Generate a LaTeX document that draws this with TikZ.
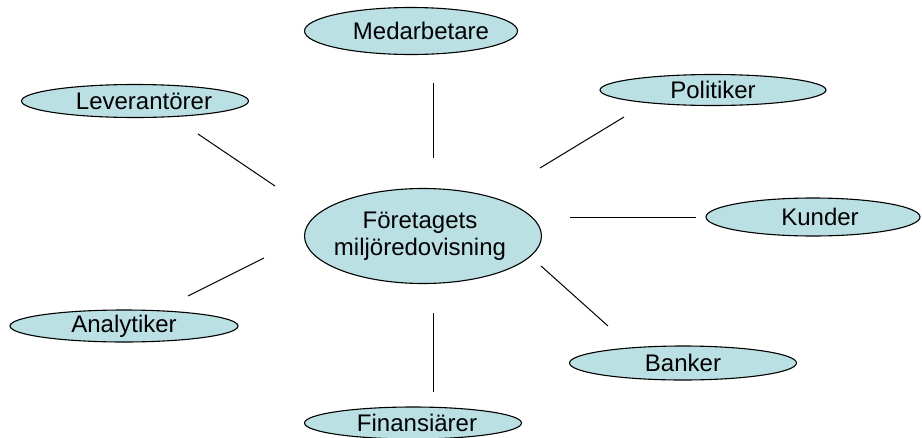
\documentclass[tikz,border=0pt]{standalone}
\usepackage{fontspec}
\setmainfont{Liberation Sans}
\usetikzlibrary{shapes.geometric}
\definecolor{bubble}{RGB}{187,224,227}
\begin{document}
\begin{tikzpicture}[x=1pt,y=-1pt,
  bub/.style={ellipse,draw=black,line width=1.1pt,fill=bubble,inner sep=0pt},
  txt/.style={inner sep=0pt,font=\fontsize{24}{27}\selectfont,align=center},
  link/.style={draw=black,line width=1pt}]
\useasboundingbox (0,0) rectangle (922,437);
\fill[white] (0,0) rectangle (922,437);
\node[bub,minimum width=237,minimum height=95] (c) at (423,236) {};
\node[bub,minimum width=213,minimum height=47] (med) at (411,31) {};
\node[bub,minimum width=227,minimum height=33] (lev) at (135,101) {};
\node[bub,minimum width=226,minimum height=31] (pol) at (713,90) {};
\node[bub,minimum width=214,minimum height=38] (kun) at (813,217) {};
\node[bub,minimum width=228,minimum height=32] (ana) at (124,326) {};
\node[bub,minimum width=227,minimum height=34] (ban) at (683,363) {};
\node[bub,minimum width=217,minimum height=32] (fin) at (413,423) {};
\node[txt] (ct) at ([xshift=-3pt]c) {Företagets\\miljöredovisning};
\node[txt] (medt) at ([xshift=10pt]med) {Medarbetare};
\node[txt] (levt) at ([xshift=9pt]lev) {Leverantörer};
\node[txt] (polt) at (pol) {Politiker};
\node[txt] (kunt) at ([xshift=7pt]kun) {Kunder};
\node[txt] (anat) at (ana) {Analytiker};
\node[txt] (bant) at (ban) {Banker};
\node[txt] (fint) at ([xshift=4pt]fin) {Finansiärer};
\coordinate (m1) at (433,83);  \coordinate (m2) at (433,158);
\coordinate (l1) at (198,134); \coordinate (l2) at (275,186);
\coordinate (p1) at (540,168); \coordinate (p2) at (624,117);
\coordinate (k1) at (570,217); \coordinate (k2) at (696,217);
\coordinate (a1) at (188,296); \coordinate (a2) at (264,258);
\coordinate (b1) at (541,266); \coordinate (b2) at (608,326);
\coordinate (f1) at (433,313); \coordinate (f2) at (433,392);
\draw[link] (m1) -- (m2);
\draw[link] (l1) -- (l2);
\draw[link] (p1) -- (p2);
\draw[link] (k1) -- (k2);
\draw[link] (a1) -- (a2);
\draw[link] (b1) -- (b2);
\draw[link] (f1) -- (f2);
\end{tikzpicture}
\end{document}
